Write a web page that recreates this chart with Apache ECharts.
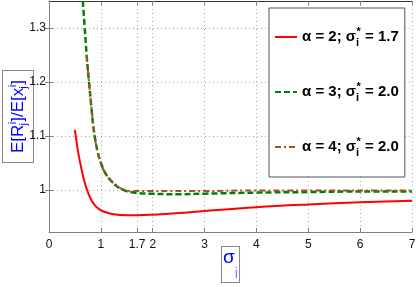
<!DOCTYPE html>
<html><head><meta charset="utf-8">
<script src="https://cdn.jsdelivr.net/npm/echarts@6/dist/echarts.min.js"></script>
<style>html,body{margin:0;padding:0;background:#fff}#c{width:416px;height:287px}</style>
</head><body><div id="c"></div>
<script>
const xTicks = [0, 1, 1.7, 2, 3, 4, 5, 6, 7];
const yTicks = [1, 1.1, 1.2, 1.3];

const redSigma = [0.5, 0.565, 0.63, 0.694, 0.758, 0.823, 0.92, 1.05, 1.24, 1.5, 1.7, 2.0, 2.5, 3, 4, 5, 6, 7];
const redVals  = [1.111, 1.068, 1.037, 1.012, 0.994, 0.980, 0.968, 0.960, 0.955, 0.953, 0.953, 0.954, 0.957, 0.961, 0.968, 0.973, 0.977, 0.98];

const greenSigma = [0.652, 0.70, 0.727, 0.771, 0.823, 0.85, 0.9, 0.95, 1.0, 1.08, 1.176, 1.305, 1.43, 1.63, 1.95, 2.5, 3, 4, 5, 6, 7];
const greenVals  = [1.35, 1.285, 1.248, 1.20, 1.148, 1.122, 1.088, 1.066, 1.050, 1.032, 1.019, 1.007, 1.0, 0.995, 0.993, 0.992, 0.993, 0.995, 0.996, 0.997, 0.997];

const brownSigma = [0.727, 0.771, 0.823, 0.85, 0.9, 0.95, 1.0, 1.08, 1.176, 1.305, 1.43, 1.6, 2.0, 3, 4, 5, 6, 7];
const brownVals  = [1.248, 1.20, 1.148, 1.122, 1.088, 1.066, 1.050, 1.032, 1.019, 1.008, 1.001, 0.998, 0.998, 0.998, 0.999, 0.999, 0.999, 0.999];

const legendAlpha = ['2', '3', '4'];
const legendSigmaStar = ['1.7', '2.0', '2.0'];

const zip = (a, b) => a.map((v, i) => [v, b[i]]);
const FF = '"Liberation Sans Narrow","Arial Narrow","Liberation Sans",Arial,sans-serif';

const chart = echarts.init(document.getElementById('c'));
chart.setOption({
  animation: false,
  backgroundColor: '#fff',
  grid: { left: 49, right: 4, top: 1, bottom: 55, containLabel: false, outerBoundsMode: 'none' },
  legend: {
    orient: 'vertical', left: 269, top: 8,
    backgroundColor: '#fff', borderColor: '#555', borderWidth: 1,
    padding: [18, 6, 19, 5],
    itemWidth: 22, itemHeight: 10, itemGap: 33,
    itemStyle: { opacity: 0 },
    data: ['a2', 'a3', 'a4'],
    formatter: function (name) {
      const idx = ['a2', 'a3', 'a4'].indexOf(name);
      return '{t|α = ' + legendAlpha[idx] + '; σ}{sb|i}{sp|*}{t| = ' + legendSigmaStar[idx] + '}';
    },
    textStyle: {
      rich: {
        t: { fontFamily: FF, fontWeight: 'bold', fontSize: 15, color: '#000', lineHeight: 22 },
        sb: { fontFamily: FF, fontWeight: 'bold', fontSize: 11, color: '#000', verticalAlign: 'bottom', width: 0.5, lineHeight: 11 },
        sp: { fontFamily: FF, fontWeight: 'bold', fontSize: 11, color: '#000', verticalAlign: 'top', lineHeight: 11 }
      }
    }
  },
  xAxis: [{
    type: 'value', min: 0, max: 7, position: 'bottom',
    axisLine: { show: true, lineStyle: { color: '#808080' } },
    axisTick: { show: true, inside: true, length: 4, customValues: xTicks, lineStyle: { color: '#808080' } },
    axisLabel: { customValues: xTicks, color: '#111', fontSize: 12, fontFamily: FF, margin: 7, formatter: v => String(v) },
    splitLine: { show: true, lineStyle: { type: [1, 3], color: '#aaa' } },
    name: '{s|σ}{i|i}', nameLocation: 'middle', nameGap: 15, nameMoveOverlap: false,
    nameTextStyle: {
      borderColor: '#888', borderWidth: 1, borderType: 'solid', backgroundColor: '#fff', padding: [1, 1, 1, 1],
      rich: {
        s: { fontFamily: FF, fontSize: 19, color: '#0000ff', lineHeight: 33, verticalAlign: 'top' },
        i: { fontFamily: FF, fontSize: 15, color: '#8080ff', lineHeight: 15, verticalAlign: 'bottom' }
      }
    }
  }, {
    type: 'value', min: 0, max: 7, position: 'top',
    axisLine: { show: true, lineStyle: { color: '#333' } },
    axisTick: { show: true, inside: true, length: 4, customValues: xTicks, lineStyle: { color: '#808080' } },
    axisLabel: { show: false }, splitLine: { show: false }
  }],
  yAxis: [{
    type: 'value', min: 0.922, max: 1.35, position: 'left',
    axisLine: { show: true, lineStyle: { color: '#808080' } },
    axisTick: { show: true, inside: true, length: 4, customValues: yTicks, lineStyle: { color: '#808080' } },
    axisLabel: { customValues: yTicks, color: '#111', fontSize: 12, fontFamily: FF, margin: 3, formatter: v => String(v) },
    splitLine: { show: true, lineStyle: { type: [1, 3], color: '#aaa' } },
    name: '{n|E[R}{sb|j}{sp|i}{n|]/E[x}{sb|j}{sp|i}{n|]}', nameLocation: 'middle', nameGap: 16, nameRotate: 90, nameMoveOverlap: false,
    nameTextStyle: {
      borderColor: '#888', borderWidth: 1, backgroundColor: '#fff', padding: [4, 9, 4, 9],
      rich: {
        n: { fontFamily: FF, fontSize: 17, color: '#0000ff', lineHeight: 22 },
        sb: { fontFamily: FF, fontSize: 11, color: '#0000ff', verticalAlign: 'bottom', width: 0.5, lineHeight: 11 },
        sp: { fontFamily: FF, fontSize: 11, color: '#0000ff', verticalAlign: 'top', lineHeight: 11 }
      }
    }
  }, {
    type: 'value', min: 0.922, max: 1.35, position: 'right',
    axisLine: { show: true, lineStyle: { color: '#808080' } },
    axisTick: { show: true, inside: true, length: 4, customValues: yTicks, lineStyle: { color: '#808080' } },
    axisLabel: { show: false }, splitLine: { show: false }
  }],
  series: [
    { name: 'a2', type: 'line', symbol: 'none', smooth: 0.4, data: zip(redSigma, redVals),
      lineStyle: { color: '#ff0000', width: 2 }, itemStyle: { color: '#ff0000' } },
    { name: 'a3', type: 'line', symbol: 'none', smooth: 0.4, data: zip(greenSigma, greenVals),
      lineStyle: { color: '#008000', width: 2.5, type: [6, 3] }, itemStyle: { color: '#008000' } },
    { name: 'a4', type: 'line', symbol: 'none', smooth: 0.4, data: zip(brownSigma, brownVals),
      lineStyle: { color: '#a0522d', width: 2, type: [6, 3, 2, 3] }, itemStyle: { color: '#a0522d' } }
  ]
});
</script></body></html>
